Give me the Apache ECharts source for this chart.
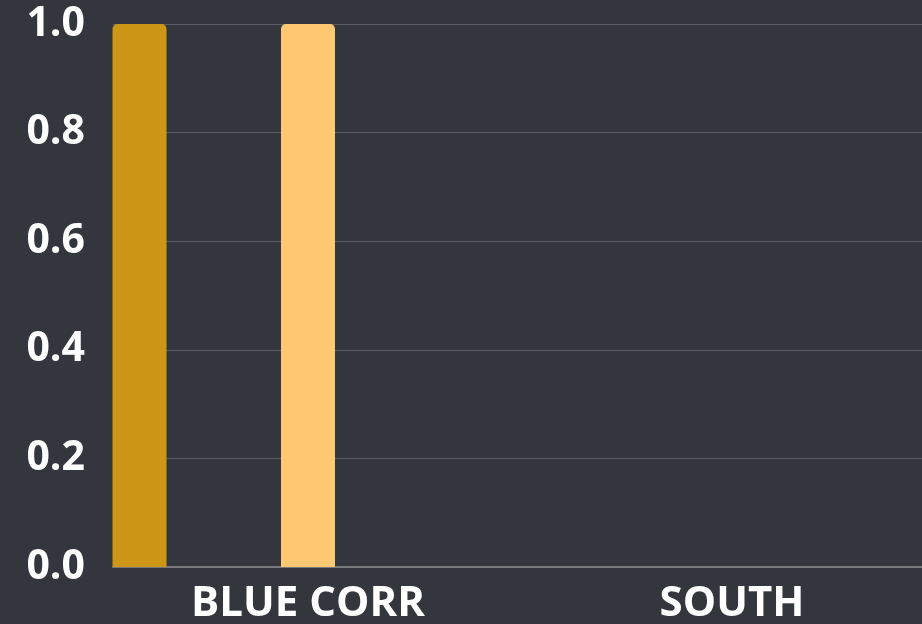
<!DOCTYPE html>
<html><head><meta charset="utf-8">
<script src="https://cdn.jsdelivr.net/npm/echarts@6/dist/echarts.min.js"></script>
<style>html,body{margin:0;padding:0;background:#33363d}#c{width:922px;height:624px}</style>
</head><body><div id="c"></div>
<script>
const categories = ['BLUE CORR', 'SOUTH'];
const seriesA = [1.0, 0];
const seriesB = [1.0, 0];
const seriesC = [0, 0];
const yTicks = [0, 0.2, 0.4, 0.6, 0.8, 1.0];

const chart = echarts.init(document.getElementById('c'));
const font = '"Open Sans", sans-serif';
chart.setOption({
  backgroundColor: '#33363d',
  animation: false,
  grid: [
    {left: 113, right: -22, top: 24, bottom: 57, outerBoundsMode: 'none', containLabel: false},
    {left: 96, right: -22, top: 24, bottom: 57, outerBoundsMode: 'none', containLabel: false}
  ],
  xAxis: [
    {gridIndex: 0, type: 'category', data: categories, boundaryGap: true,
     axisLine: {show: true, lineStyle: {color: '#77797d', width: 2}},
     axisTick: {show: false}, axisLabel: {show: false}, splitLine: {show: false}},
    {gridIndex: 1, type: 'category', data: categories, boundaryGap: true,
     axisLine: {show: false}, axisTick: {show: false},
     axisLabel: {color: '#ffffff', fontFamily: font, fontWeight: 'bold', fontSize: 42, margin: 16}}
  ],
  yAxis: [
    {gridIndex: 0, type: 'value', min: 0, max: 1, interval: 0.2,
     axisLine: {show: false}, axisTick: {show: false},
     axisLabel: {color: '#ffffff', fontFamily: font, fontWeight: 'bold', fontSize: 41, margin: 28,
       formatter: v => yTicks.includes(Math.round(v*10)/10) ? v.toFixed(1) : ''},
     splitLine: {show: true, lineStyle: {color: '#5a5d63', width: 1}}},
    {gridIndex: 1, type: 'value', min: 0, max: 1, interval: 0.2, show: false}
  ],
  series: [
    {type: 'bar', xAxisIndex: 1, yAxisIndex: 1, data: seriesA, barWidth: 54, barGap: '212%',
     itemStyle: {color: '#cc9616', borderRadius: [5,5,0,0]}},
    {type: 'bar', xAxisIndex: 1, yAxisIndex: 1, data: seriesB, barWidth: 54, barGap: '212%',
     itemStyle: {color: '#ffc872', borderRadius: [5,5,0,0]}},
    {type: 'bar', xAxisIndex: 1, yAxisIndex: 1, data: seriesC, barWidth: 54, barGap: '212%',
     itemStyle: {color: '#f2e2b8', borderRadius: [5,5,0,0]}}
  ]
});
</script></body></html>
